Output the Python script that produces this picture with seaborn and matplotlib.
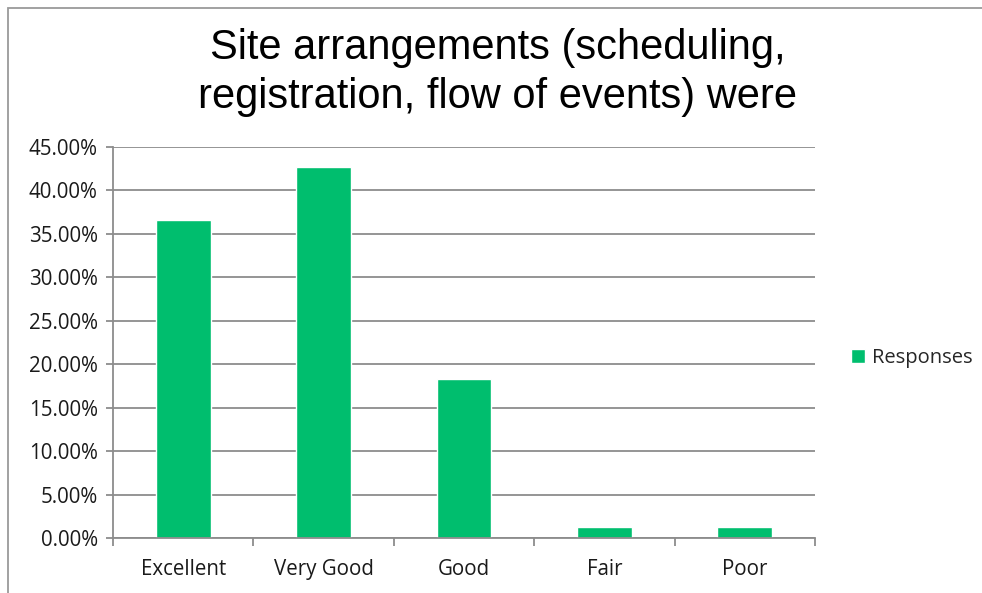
import matplotlib
matplotlib.use("Agg")
import matplotlib.pyplot as plt
import seaborn as sns
import pandas as pd
from matplotlib.ticker import FixedLocator, PercentFormatter
from matplotlib.patches import Rectangle

categories = ["Excellent", "Very Good", "Good", "Fair", "Poor"]
responses = [0.3659, 0.4268, 0.1829, 0.0122, 0.0122]
series_name = "Responses"
title = "Site arrangements (scheduling,\nregistration, flow of events) were"

sns.set_theme(style="white")
plt.rcParams['font.family'] = ['Open Sans', 'DejaVu Sans']

df = pd.DataFrame({"Rating": categories, "Share": responses})

fig = plt.figure(figsize=(9.82, 5.93), dpi=100)
ax = fig.add_axes([113/982, 1-538/593, (815-113)/982, (538-147)/593])

green = "#00BE6E"
sns.barplot(data=df, x="Rating", y="Share", color=green, width=0.39,
            saturation=1, label=series_name, ax=ax)

ax.set_ylim(0, 0.45)
ax.set_xlim(-0.5, 4.5)
ax.set_yticks([i * 0.05 for i in range(10)])
ax.yaxis.set_major_formatter(PercentFormatter(1.0, decimals=2))
ax.grid(axis="y", color="#8c8c8c", linewidth=1.3)
ax.set_axisbelow(True)
ax.set_xlabel("")
ax.set_ylabel("")

for s in ["top", "right"]:
    ax.spines[s].set_visible(False)
for s in ["left", "bottom"]:
    ax.spines[s].set_color("#8c8c8c")
    ax.spines[s].set_linewidth(1.3)

lab_size = 14.8
ax.tick_params(axis="x", which="major", length=0, pad=15, labelsize=lab_size, labelcolor="#1a1a1a")
ax.xaxis.set_minor_locator(FixedLocator([i - 0.5 for i in range(len(categories) + 1)]))
ax.tick_params(axis="x", which="minor", length=6, width=1.3, color="#8c8c8c", direction="out", bottom=True)
ax.tick_params(axis="y", length=5, width=1.3, color="#8c8c8c", direction="out", left=True,
               labelsize=lab_size, labelcolor="#1a1a1a", pad=6)

leg = ax.legend(loc="center left", bbox_to_anchor=(1.025, 0.46), frameon=False,
                fontsize=lab_size - 0.3, handlelength=0.7, handleheight=0.7, handletextpad=0.35)

fig.text(0.507, 0.878, title, ha="center", va="center", fontsize=30,
         family=["Liberation Sans Narrow", "Liberation Sans", "DejaVu Sans"],
         linespacing=1.27, color="black")

# outer chart frame (left and top edges)
fig.patches.append(Rectangle((8/982, -0.05), 1.1, 1 - 8/593 + 0.05, transform=fig.transFigure,
                             fill=False, edgecolor="#9a9a9a", linewidth=1.3))

fig.savefig("out.png", dpi=100)
